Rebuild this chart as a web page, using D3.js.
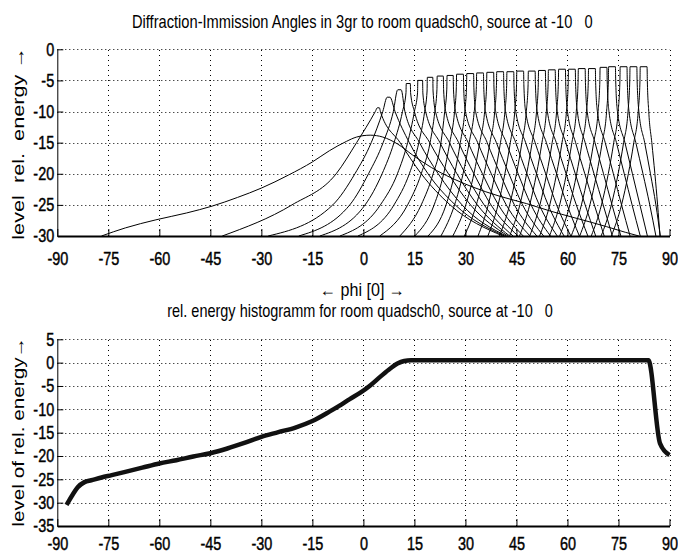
<!DOCTYPE html>
<html>
<head>
<meta charset="utf-8">
<script src="https://cdn.jsdelivr.net/npm/d3@7"></script>
<style>
  body { margin: 0; background: #fff; }
  text { fill: #000; white-space: pre; }
</style>
</head>
<body>
<div class="chart"></div>
<script>
// ---- data ----
const phiTicks = [-90, -75, -60, -45, -30, -15, 0, 15, 30, 45, 60, 75, 90];
const topTicks = [0, -5, -10, -15, -20, -25, -30];
const histTicks = [5, 0, -5, -10, -15, -20, -25, -30, -35];

// broad first curve (angle, level)
const broadPhi = [-77, -70, -61, -52, -44.5, -37, -30, -22, -15, -10, -5, -2, 2, 5.7, 10, 14.5, 20, 26, 32, 40, 48, 55, 61.6, 67, 71.5, 77, 81];
const broadDb  = [-30, -28.7, -27.4, -26.3, -25.2, -23.8, -22.3, -20.2, -18.1, -16.3, -14.8, -14.1, -13.8, -14.1, -15.2, -17, -19, -20.7, -22.1, -23.6, -24.8, -26, -27, -27.8, -28.5, -29.4, -30];

// peaked curves: centre, top level, half width of the flat top, foot of the vertical side
const peakPhi = [4.4, 7.4, 10.6, 13.2, 16.7, 19.6, 22.6, 25.5, 28.4, 31.4, 34.3, 37.3, 40.2, 43.2, 46.1, 49.5, 52.5, 55.4, 58.4, 61.3, 64.2, 67.2, 70.6, 73.1, 76.5, 79.4, 82.4];
const peakDb  = [-9.4, -7.7, -6.5, -5.5, -5.0, -4.5, -4.3, -4.2, -4.0, -3.9, -3.8, -3.7, -3.6, -3.6, -3.5, -3.5, -3.4, -3.3, -3.2, -3.2, -3.1, -3.1, -2.9, -2.8, -2.8, -2.8, -2.8];
const topHalf = [0.3, 0.4, 0.5, 0.6, 0.7, 0.8, 0.9, 0.9, 1, 1, 1, 1, 1, 1, 1, 1, 1, 1, 1, 1, 1, 1, 1, 1, 1, 1, 1];
const shoulderDb = [null, null, null, -7.0, -7.0, -6.7, -6.5, -6.4, -6.2, -6.1, -6.0, -5.9, -5.8, -5.8, -5.7, -5.7, -5.6, -5.5, -5.4, -5.4, -5.3, -5.3, -5.1, -5.0, -5.0, -5.0, -5.0];

// flank angles where each curve crosses these levels
const flankDb = [-30, -25, -20, -15, -10];
const leftPhi = [
  [-41.5, -21, -8, -2, 3.5], [-28, -9, -2.5, 2.3, 5.7], [-19, -4, 1.5, 5.8, 8.8],
  [-12.8, 0.5, 5.5, 9, 11.5], [-6.9, 5, 10, 13, 15.0], [-1.6, 9, 13.5, 16.3, 18.0],
  [4.8, 13, 17, 19.6, 21.0], [10.7, 17, 20.5, 22.8, 23.9], [15.1, 20.8, 23.6, 25.4, 26.8],
  [19, 24.3, 26.8, 28.5, 29.8], [22.8, 26.8, 29.3, 31.1, 32.6], [26.3, 30.1, 32.5, 34.2, 35.65],
  [29.7, 33.2, 35.5, 37.2, 38.6], [33.7, 36.7, 38.7, 40.3, 41.6], [36.6, 39.6, 41.6, 43.2, 44.5],
  [40, 43, 45, 46.6, 47.9], [43, 46, 48, 49.6, 50.9], [45.9, 48.9, 50.9, 52.5, 53.8],
  [48.9, 51.9, 53.9, 55.5, 56.8], [51.8, 54.8, 56.8, 58.4, 59.7], [54.7, 57.7, 59.7, 61.3, 62.6],
  [57.7, 60.7, 62.7, 64.3, 65.6], [61.1, 64.1, 66.1, 67.7, 69], [63.6, 66.6, 68.6, 70.2, 71.5],
  [67, 70, 72, 73.6, 74.9], [69.9, 72.9, 74.9, 76.5, 77.8], [72.9, 75.9, 77.9, 79.5, 80.8]
];
const rightPhi = [
  [41, 25.5, 17, 10.8, 5.0], [41.5, 27, 19, 13.5, 9.3], [42, 29, 22, 16.5, 12.2],
  [42.5, 31.5, 25, 19.5, 15], [43, 33.5, 27.5, 22.5, 18.3], [44, 35.5, 30, 25.3, 21.2],
  [45.5, 37.5, 32.5, 28, 24.2], [47, 39.7, 35, 30.8, 27.1], [49, 42, 37.6, 33.6, 30],
  [51, 44.4, 40.2, 36.4, 33], [53, 46.8, 42.8, 39.1, 35.9], [55, 49.3, 45.5, 42, 38.9],
  [57, 51.7, 48.1, 44.8, 41.8], [59, 54.3, 50.9, 47.7, 44.8], [61, 56.8, 53.6, 50.5, 47.7],
  [63.5, 59.9, 56.8, 53.8, 51.1], [66, 62.6, 59.6, 56.7, 54.1], [68.3, 65.2, 62.3, 59.5, 57],
  [70.8, 67.9, 65.1, 62.4, 60], [73.2, 70.5, 67.8, 65.2, 62.9], [75.7, 73.1, 70.6, 68.1, 65.8],
  [78.4, 75.9, 73.5, 71.1, 68.8], [81.4, 79, 76.7, 74.4, 72.2], [83.5, 81.3, 79.1, 76.9, 74.7],
  [86, 84.2, 82.2, 80.1, 78.1], [87.3, 86, 84.4, 82.7, 81], [87.2, 86.5, 85.7, 84.8, 83.9]
];

// energy histogram (angle, level)
const histPhi = [-87.3, -86.5, -85.5, -84, -82, -80, -77, -74, -70, -65, -60, -55, -50, -45, -40, -35, -30, -25, -20, -15, -10, -7, -4, -1, 2, 5, 8, 10, 12, 14, 16, 83.8, 87.2, 90];
const histDb  = [-30.5, -29.5, -28.3, -26.7, -25.6, -25.2, -24.6, -24.1, -23.4, -22.5, -21.6, -20.9, -20.1, -19.4, -18.4, -17.2, -15.9, -14.9, -13.9, -12.5, -10.5, -9.2, -7.8, -6.5, -4.9, -3.0, -1.2, -0.2, 0.35, 0.5, 0.5, 0.5, -17.3, -19.8];

// ---- layout ----
const W = 678, H = 555;
const font = "'Liberation Sans', Arial, sans-serif";

const svg = d3.select(".chart")
    .append("svg")
    .attr("width", W)
    .attr("height", H)
    .style("background", "#fff");

const x = d3.scaleLinear().domain([-90, 90]).range([57.3, 669.5]);
const yTop = d3.scaleLinear().domain([-30, 0]).range([236, 49.3]);
const yBot = d3.scaleLinear().domain([-35, 5]).range([526, 339.3]);

// draw one panel: dotted grid, axes, tick labels
function panel(y, yTicks, xPad) {
    const g = svg.append("g");
    const [y0, y1] = y.range();

    // grid
    g.selectAll(".vgrid")
        .data(phiTicks.slice(1))
        .enter().append("line")
        .attr("x1", d => Math.round(x(d)) + 0.5).attr("x2", d => Math.round(x(d)) + 0.5)
        .attr("y1", y0).attr("y2", y1)
        .attr("stroke", "#000").attr("stroke-width", 1)
        .attr("stroke-dasharray", "1,4");
    g.selectAll(".hgrid")
        .data(yTicks.slice(0, -1))
        .enter().append("line")
        .attr("x1", x(-90)).attr("x2", x(90))
        .attr("y1", d => Math.round(y(d)) + 0.5).attr("y2", d => Math.round(y(d)) + 0.5)
        .attr("stroke", "#000").attr("stroke-width", 1)
        .attr("stroke-dasharray", "1,3");

    // x axis
    const ax = g.append("g")
        .attr("transform", `translate(0,${y0})`)
        .call(d3.axisBottom(x).tickValues(phiTicks).tickFormat(d => String(d))
            .tickSizeInner(-7).tickSizeOuter(0).tickPadding(xPad));
    ax.select(".domain").attr("stroke-width", 2);

    // y axis
    g.append("g")
        .attr("transform", `translate(${x(-90)},0)`)
        .call(d3.axisLeft(y).tickValues(yTicks).tickFormat(d => String(d))
            .tickSizeInner(-6).tickSizeOuter(0).tickPadding(4));

    // tall, narrow digits like the original
    g.selectAll(".tick text")
        .attr("font-family", font)
        .attr("font-size", 18.5)
        .attr("fill", "#000")
        .attr("stroke", "#000")
        .attr("stroke-width", 0.45)
        .attr("transform", "scale(0.78,1)");
    g.selectAll(".tick line").attr("stroke", "#000");
    g.selectAll(".domain").attr("stroke", "#000");
    return g;
}

panel(yTop, topTicks, 16);
panel(yBot, histTicks, 11);

// ---- top panel curves ----
const lineTop = d3.line()
    .x(d => x(d[0]))
    .y(d => yTop(d[1]))
    .curve(d3.curveMonotoneX);

const curves = [d3.zip(broadPhi, broadDb)];
peakPhi.forEach((p, i) => {
    const left = flankDb.map((db, j) => [leftPhi[i][j], db]);
    const right = flankDb.map((db, j) => [rightPhi[i][j], db]).reverse();
    const a = p - topHalf[i], b = p + topHalf[i];
    let top = [[a, peakDb[i]], [b, peakDb[i]]];
    if (shoulderDb[i] !== null) {
        top = [[a - 0.08, shoulderDb[i]]].concat(top, [[b + 0.08, shoulderDb[i]]]);
    }
    curves.push(left.concat(top, right));
});

svg.append("g")
    .selectAll("path")
    .data(curves)
    .enter().append("path")
    .attr("fill", "none")
    .attr("stroke", "#000")
    .attr("stroke-width", 1)
    .attr("d", lineTop);

// ---- bottom panel histogram ----
const lineBot = d3.line()
    .x(d => x(d[0]))
    .y(d => yBot(d[1]))
    .curve(d3.curveMonotoneX);

svg.append("path")
    .datum(d3.zip(histPhi, histDb))
    .attr("fill", "none")
    .attr("stroke", "#111")
    .attr("stroke-width", 4.5)
    .attr("stroke-linejoin", "round")
    .attr("d", lineBot);

// ---- titles and labels ----
// squeeze a centred text to the width it has in the original
function label(txt, cx, cy, width, size, rotate) {
    const t = svg.append("text")
        .attr("text-anchor", "middle")
        .attr("font-family", font)
        .attr("font-size", size)
        .text(txt);
    const sx = width / t.node().getComputedTextLength();
    t.attr("transform", `translate(${cx},${cy})` + (rotate ? " rotate(-90)" : "") + ` scale(${sx},1)`);
}

label("Diffraction-Immission Angles in 3gr to room quadsch0, source at -10   0", 362.3, 28, 461, 18);
label("\u2190 phi [0] \u2192", 362.5, 296, 85, 18);
label("rel. energy histogramm for room quadsch0, source at -10   0", 360, 316.5, 386, 18);
label("level  rel.  energy \u2192", 23.5, 143.3, 193, 17, true);
label("level of rel. energy\u2192", 23.5, 431.7, 190, 17, true);
</script>
</body>
</html>
